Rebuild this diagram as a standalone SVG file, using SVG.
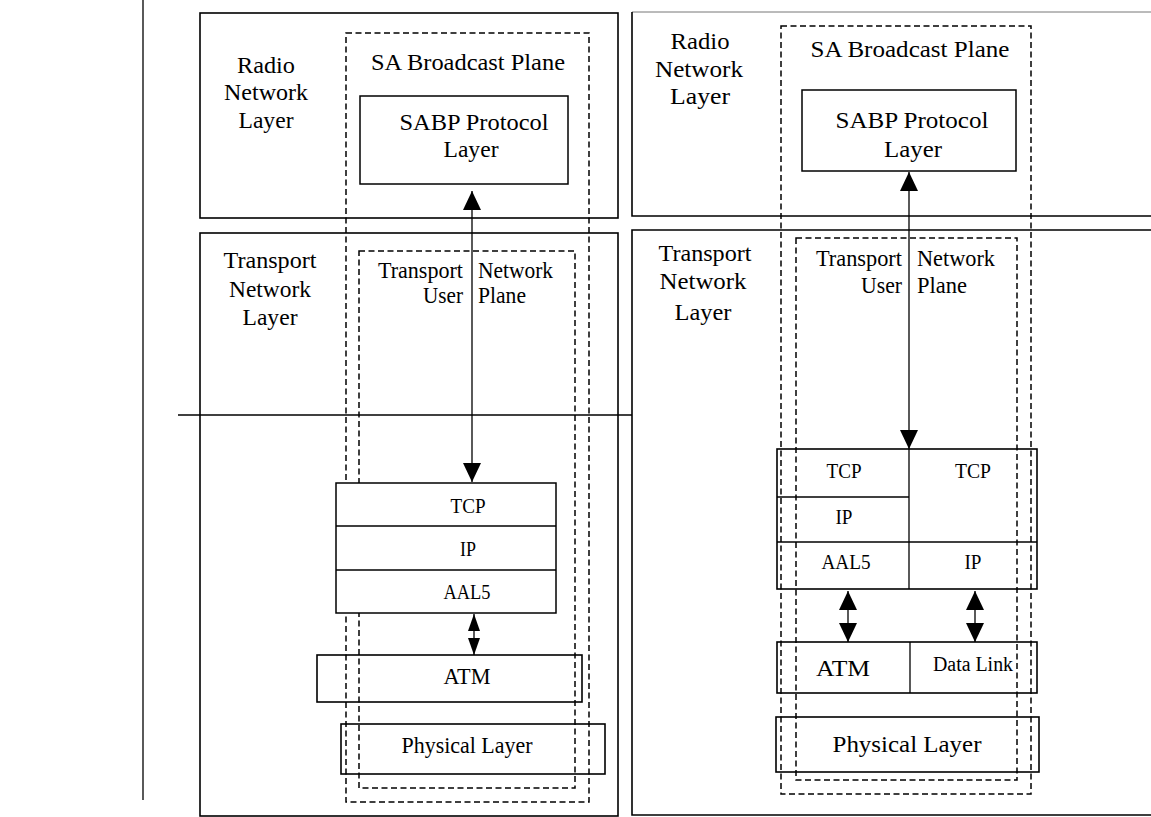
<svg xmlns="http://www.w3.org/2000/svg" width="1151" height="817" viewBox="0 0 1151 817">
<style>
.box{fill:none;stroke:#000;stroke-width:1.6}
.sbox{fill:#fff;stroke:#000;stroke-width:1.5}
.dash{fill:none;stroke:#000;stroke-width:1.5;stroke-dasharray:6 3.5}
.ln{fill:none;stroke:#000;stroke-width:1.3}
.t{font-family:"Liberation Serif","Times New Roman",serif;font-size:23px;fill:#000}
.s{font-family:"Liberation Serif","Times New Roman",serif;font-size:20px;fill:#000}
.m{text-anchor:middle}
.e{text-anchor:end}
</style>
<defs>
<marker id="ah" viewBox="0 0 10 10" refX="10" refY="5" markerWidth="19" markerHeight="18" markerUnits="userSpaceOnUse" orient="auto-start-reverse" preserveAspectRatio="none"><path d="M0,0 L10,5 L0,10 z" fill="#000"/></marker>
<marker id="ahs" viewBox="0 0 10 10" refX="10" refY="5" markerWidth="17" markerHeight="12" markerUnits="userSpaceOnUse" orient="auto-start-reverse" preserveAspectRatio="none"><path d="M0,0 L10,5 L0,10 z" fill="#000"/></marker>
</defs>
<rect width="1151" height="817" fill="#fff"/>

<g id="frame-lines">
<line class="ln" x1="143" y1="0" x2="143" y2="800"/>
<line class="ln" x1="178" y1="415" x2="632" y2="415"/>
</g>

<!-- Left side -->
<g id="left-radio-layer">
<rect class="box" x="200" y="13" width="418" height="205"/>
<text class="t m" x="266" y="73" textLength="58" lengthAdjust="spacingAndGlyphs">Radio</text>
<text class="t m" x="266" y="100" textLength="84" lengthAdjust="spacingAndGlyphs">Network</text>
<text class="t m" x="266" y="128" textLength="55" lengthAdjust="spacingAndGlyphs">Layer</text>
</g>
<g id="left-transport-layer">
<rect class="box" x="200" y="233" width="418" height="583"/>
<text class="t m" x="270" y="268" textLength="93" lengthAdjust="spacingAndGlyphs">Transport</text>
<text class="t m" x="270" y="297" textLength="82" lengthAdjust="spacingAndGlyphs">Network</text>
<text class="t m" x="270" y="325" textLength="55" lengthAdjust="spacingAndGlyphs">Layer</text>
</g>
<g id="left-sa-plane">
<rect class="dash" x="346" y="33" width="243" height="769"/>
<text class="t m" x="468" y="70" textLength="194" lengthAdjust="spacingAndGlyphs">SA Broadcast Plane</text>
</g>
<g id="left-tnup">
<rect class="dash" x="359" y="251" width="216" height="537"/>
<text class="t e" x="463" y="278" textLength="85" lengthAdjust="spacingAndGlyphs">Transport</text>
<text class="t e" x="463" y="303" textLength="40" lengthAdjust="spacingAndGlyphs">User</text>
<text class="t" x="478" y="278" textLength="75" lengthAdjust="spacingAndGlyphs">Network</text>
<text class="t" x="478" y="303" textLength="48" lengthAdjust="spacingAndGlyphs">Plane</text>
</g>
<g id="left-sabp">
<rect class="sbox" x="360" y="96" width="208" height="88"/>
<text class="t m" x="474" y="130" textLength="149" lengthAdjust="spacingAndGlyphs">SABP Protocol</text>
<text class="t m" x="471" y="157" textLength="55" lengthAdjust="spacingAndGlyphs">Layer</text>
</g>
<g id="left-stack">
<rect class="sbox" x="336" y="483" width="220" height="130"/>
<line class="ln" x1="336" y1="526" x2="556" y2="526"/>
<line class="ln" x1="336" y1="570" x2="556" y2="570"/>
<text class="s m" x="468" y="513" textLength="35" lengthAdjust="spacingAndGlyphs">TCP</text>
<text class="s m" x="468" y="556" textLength="16" lengthAdjust="spacingAndGlyphs">IP</text>
<text class="s m" x="467" y="599" textLength="47" lengthAdjust="spacingAndGlyphs">AAL5</text>
</g>
<g id="left-atm">
<rect class="box" x="317" y="655" width="265" height="47"/>
<text class="t m" x="467" y="684" textLength="47" lengthAdjust="spacingAndGlyphs">ATM</text>
</g>
<g id="left-physical">
<rect class="box" x="341" y="724" width="264" height="50"/>
<text class="t m" x="467" y="753" textLength="131" lengthAdjust="spacingAndGlyphs">Physical Layer</text>
</g>

<!-- Right side -->
<g id="right-radio-layer">
<line x1="632" y1="12" x2="1151" y2="12" stroke="#777" stroke-width="1"/>
<path class="box" d="M632,12 L632,216 L1151,216"/>
<text class="t m" x="700" y="49" textLength="59" lengthAdjust="spacingAndGlyphs">Radio</text>
<text class="t m" x="699" y="77" textLength="88" lengthAdjust="spacingAndGlyphs">Network</text>
<text class="t m" x="700" y="104" textLength="60" lengthAdjust="spacingAndGlyphs">Layer</text>
</g>
<g id="right-transport-layer">
<path class="box" d="M1151,230 L632,230 L632,815 L1151,815"/>
<text class="t m" x="705" y="261" textLength="93" lengthAdjust="spacingAndGlyphs">Transport</text>
<text class="t m" x="703" y="289" textLength="87" lengthAdjust="spacingAndGlyphs">Network</text>
<text class="t m" x="703" y="320" textLength="57" lengthAdjust="spacingAndGlyphs">Layer</text>
</g>
<g id="right-sa-plane">
<rect class="dash" x="781" y="26" width="250" height="768"/>
<text class="t m" x="910" y="57" textLength="199" lengthAdjust="spacingAndGlyphs">SA Broadcast Plane</text>
</g>
<g id="right-tnup">
<rect class="dash" x="796" y="238" width="221" height="542"/>
<text class="t e" x="902" y="266" textLength="86" lengthAdjust="spacingAndGlyphs">Transport</text>
<text class="t e" x="902" y="293" textLength="41" lengthAdjust="spacingAndGlyphs">User</text>
<text class="t" x="917" y="266" textLength="78" lengthAdjust="spacingAndGlyphs">Network</text>
<text class="t" x="917" y="293" textLength="50" lengthAdjust="spacingAndGlyphs">Plane</text>
</g>
<g id="right-sabp">
<rect class="sbox" x="802" y="90" width="214" height="81"/>
<text class="t m" x="912" y="128" textLength="153" lengthAdjust="spacingAndGlyphs">SABP Protocol</text>
<text class="t m" x="913" y="157" textLength="58" lengthAdjust="spacingAndGlyphs">Layer</text>
</g>
<g id="right-stack">
<rect class="box" x="777" y="449" width="260" height="140"/>
<line class="ln" x1="909" y1="449" x2="909" y2="589"/>
<line class="ln" x1="777" y1="497" x2="909" y2="497"/>
<line class="ln" x1="777" y1="542" x2="1037" y2="542"/>
<text class="s m" x="844" y="478" textLength="35" lengthAdjust="spacingAndGlyphs">TCP</text>
<text class="s m" x="844" y="524" textLength="17" lengthAdjust="spacingAndGlyphs">IP</text>
<text class="s m" x="846" y="569" textLength="49" lengthAdjust="spacingAndGlyphs">AAL5</text>
<text class="s m" x="973" y="478" textLength="36" lengthAdjust="spacingAndGlyphs">TCP</text>
<text class="s m" x="973" y="569" textLength="17" lengthAdjust="spacingAndGlyphs">IP</text>
</g>
<g id="right-atm-datalink">
<rect class="box" x="777" y="642" width="260" height="51"/>
<line class="ln" x1="910" y1="642" x2="910" y2="693"/>
<text class="t m" x="843" y="676" font-size="25" textLength="54" lengthAdjust="spacingAndGlyphs">ATM</text>
<text class="s m" x="973" y="671" textLength="80" lengthAdjust="spacingAndGlyphs">Data Link</text>
</g>
<g id="right-physical">
<rect class="box" x="776" y="717" width="263" height="55"/>
<text class="t m" x="907" y="752" textLength="149" lengthAdjust="spacingAndGlyphs">Physical Layer</text>
</g>

<g id="connectors">
<line class="ln" x1="472" y1="191" x2="472" y2="482" marker-start="url(#ah)" marker-end="url(#ah)"/>
<line class="ln" x1="474" y1="614" x2="474" y2="655" marker-start="url(#ahs)" marker-end="url(#ahs)"/>
<line class="ln" x1="909" y1="172" x2="909" y2="449" marker-start="url(#ah)" marker-end="url(#ah)"/>
<line class="ln" x1="848" y1="591" x2="848" y2="642" marker-start="url(#ah)" marker-end="url(#ah)"/>
<line class="ln" x1="975" y1="591" x2="975" y2="642" marker-start="url(#ah)" marker-end="url(#ah)"/>
</g>
</svg>
